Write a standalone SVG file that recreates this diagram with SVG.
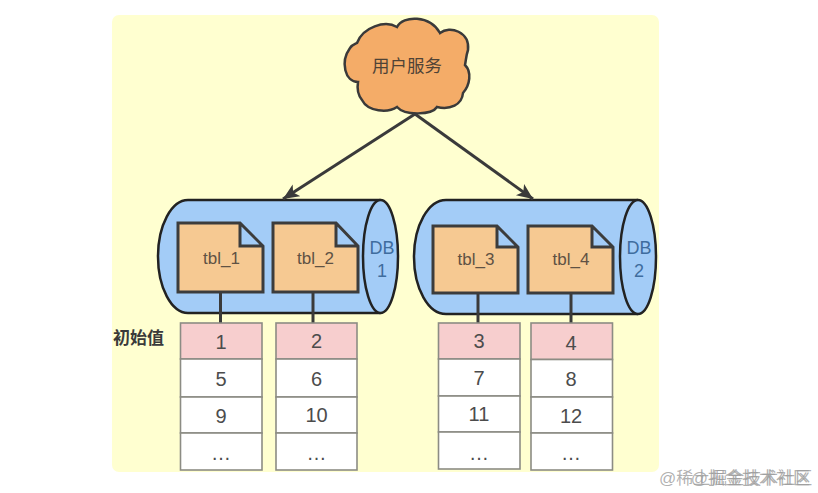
<svg xmlns="http://www.w3.org/2000/svg" width="818" height="493" viewBox="0 0 818 493">
<style>
text{font-family:"Liberation Sans","Noto Sans CJK SC",sans-serif;text-anchor:middle}
.cyl{fill:#a3ccf7;stroke:#222;stroke-width:2.5}
.doc{fill:#f6c992;stroke:#3c3c3c;stroke-width:3;stroke-linejoin:miter}
.lbl{font-size:17px;fill:#5f5244}
.db{font-size:18px;fill:#3f6d9e}
.cell{fill:#fff;stroke:#8c8c84;stroke-width:1.6}
.head{fill:#f7cece;stroke:#8c8c84;stroke-width:1.6}
.num{font-size:20px;fill:#4c4c4c}
.wire{stroke:#3a3a3a;stroke-width:3;fill:none}
.wm{font-size:17px;fill:#9c9c9c;fill-opacity:.8}
</style>
<defs>
<marker id="arr" markerUnits="userSpaceOnUse" markerWidth="18" markerHeight="16" refX="16" refY="7" orient="auto">
<path d="M0,0 L16,7 L0,14 L4,7 Z" fill="#3a3a3a"/>
</marker>
</defs>
<rect x="112" y="15" width="547" height="457" rx="7" fill="#ffffd0"/>
<g id="cloud">
<path d="M357,43 C363,27 385,20 397,27 C403,15 430,15 440,33 C450,25 470,32 468,50 C466,56 466,60 465,65 C472,72 470,85 463,93 C462,105 450,110 437,107 C432,115 405,116 397,107 C388,113 368,112 362,100 C358,95 357,88 358,82 C345,82 340,62 350,48 C352,45 355,44 357,43 Z" fill="#f4ac68" stroke="#3a3a3a" stroke-width="2.5"/>
<text x="407" y="72" style="font-size:17.5px;fill:#4f4336">用户服务</text>
</g>
<g id="db1">
<path class="cyl" d="M380.500,200 L188,200 A30,56.500 0 0 0 188,313 L380.500,313"/>
<ellipse class="cyl" cx="380.500" cy="256.500" rx="17.500" ry="56.500"/>
<text class="db" x="382" y="254">DB</text>
<text class="db" x="382" y="277">1</text>
</g>
<g id="db2">
<path class="cyl" d="M638,200 L446,200 A32,57 0 0 0 446,314 L638,314"/>
<ellipse class="cyl" cx="638" cy="257" rx="18" ry="57"/>
<text class="db" x="639" y="254">DB</text>
<text class="db" x="639" y="277">2</text>
</g>
<g id="connectors">
<path class="wire" d="M415,114 L283,199" marker-end="url(#arr)"/>
<path class="wire" d="M415,114 L533,199" marker-end="url(#arr)"/>
<path class="wire" d="M220.500,292 V323"/>
<path class="wire" d="M313,292 V323"/>
<path class="wire" d="M478,293 V323"/>
<path class="wire" d="M571,293 V323"/>
</g>
<g id="tbl_1">
<path class="doc" d="M178,223 H240 L263,246 V292 H178 Z M240,223 V246 H263"/>
<text class="lbl" x="221.500" y="264">tbl_1</text>
</g>
<g id="tbl_2">
<path class="doc" d="M273,223 H336 L358,246 V292 H273 Z M336,223 V246 H358"/>
<text class="lbl" x="315.500" y="264">tbl_2</text>
</g>
<g id="tbl_3">
<path class="doc" d="M433,226 H497 L518,247 V293 H433 Z M497,226 V247 H518"/>
<text class="lbl" x="476" y="265">tbl_3</text>
</g>
<g id="tbl_4">
<path class="doc" d="M528,226 H592 L613,247 V293 H528 Z M592,226 V247 H613"/>
<text class="lbl" x="571" y="265">tbl_4</text>
</g>
<text id="init-label" x="138.500" y="344" style="font-size:17px;font-weight:bold;fill:#3a3a3a">初始值</text>
<g id="col1">
<rect class="head" x="180.500" y="323" width="81.500" height="36"/>
<rect class="cell" x="180.500" y="359" width="81.500" height="38"/>
<rect class="cell" x="180.500" y="397" width="81.500" height="36"/>
<rect class="cell" x="180.500" y="433" width="81.500" height="37"/>
<text class="num" x="221" y="349">1</text><text class="num" x="221" y="386">5</text><text class="num" x="221" y="423">9</text><text class="num" x="221" y="460">…</text>
</g>
<g id="col2">
<rect class="head" x="276" y="323" width="81" height="36"/>
<rect class="cell" x="276" y="359" width="81" height="38"/>
<rect class="cell" x="276" y="397" width="81" height="36"/>
<rect class="cell" x="276" y="433" width="81" height="37"/>
<text class="num" x="316.500" y="348">2</text><text class="num" x="316.500" y="386">6</text><text class="num" x="316.500" y="422">10</text><text class="num" x="316.500" y="460">…</text>
</g>
<g id="col3">
<rect class="head" x="438.500" y="323" width="81.500" height="36"/>
<rect class="cell" x="438.500" y="359" width="81.500" height="37"/>
<rect class="cell" x="438.500" y="396" width="81.500" height="36"/>
<rect class="cell" x="438.500" y="432" width="81.500" height="37"/>
<text class="num" x="479" y="348">3</text><text class="num" x="479" y="385">7</text><text class="num" x="479" y="421">11</text><text class="num" x="479" y="460">…</text>
</g>
<g id="col4">
<rect class="head" x="531" y="323" width="81.500" height="36.500"/>
<rect class="cell" x="531" y="359.500" width="81.500" height="37.500"/>
<rect class="cell" x="531" y="397" width="81.500" height="36"/>
<rect class="cell" x="531" y="433" width="81.500" height="37"/>
<text class="num" x="571" y="350">4</text><text class="num" x="571" y="386">8</text><text class="num" x="571" y="423">12</text><text class="num" x="571" y="460">…</text>
</g>
<g id="watermark">
<text class="wm" x="659" y="484" style="text-anchor:start">@稀土掘金技术社区</text>
<text class="wm" x="810" y="484" style="text-anchor:end">@掘金技术社区</text>
</g>
</svg>
